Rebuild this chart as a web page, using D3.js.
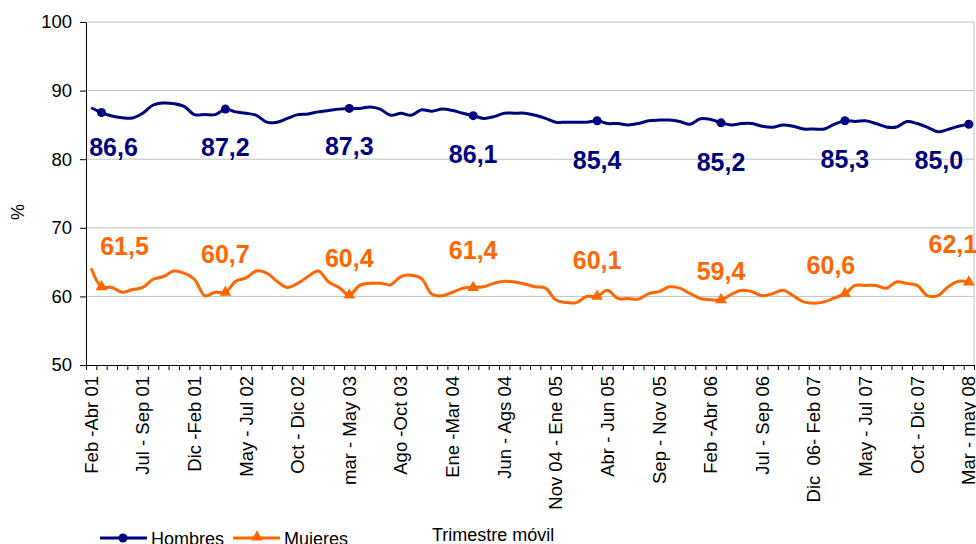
<!DOCTYPE html>
<html>
<head>
<meta charset="utf-8">
<script src="https://cdn.jsdelivr.net/npm/d3@7"></script>
<style>
  body { margin: 0; background: #fff; }
  svg text { font-family: "Liberation Sans", Arial, sans-serif; white-space: pre; }
</style>
</head>
<body>
<svg width="976" height="544"></svg>
<script>
// moving quarters Feb-Abr 01 .. Mar-May 08 (86 values)
var hombres = [87.5, 86.8, 86.3, 86.05, 86.0, 86.7, 87.9, 88.2, 88.1, 87.7,
  86.5, 86.5, 86.5, 87.3, 86.9, 86.7, 86.4, 85.4, 85.4, 85.95,
  86.5, 86.6, 86.9, 87.1, 87.3, 87.4, 87.4, 87.6, 87.3, 86.4,
  86.7, 86.4, 87.2, 87.0, 87.3, 87.1, 86.7, 86.35, 85.95, 86.2,
  86.7, 86.7, 86.7, 86.4, 85.95, 85.4, 85.4, 85.4, 85.4, 85.6,
  85.2, 85.2, 85.0, 85.2, 85.6, 85.7, 85.7, 85.5, 85.1, 85.9,
  85.8, 85.3, 85.0, 85.2, 85.2, 84.8, 84.65, 85.0, 84.8, 84.4,
  84.4, 84.4, 85.1, 85.6, 85.5, 85.6, 85.2, 84.7, 84.7, 85.5,
  85.2, 84.65, 84.0, 84.35, 84.8, 85.1];
var mujeres = [64.1, 61.4, 61.3, 60.6, 61.0, 61.3, 62.5, 62.9, 63.7, 63.4,
  62.5, 60.1, 60.6, 60.6, 62.2, 62.7, 63.7, 63.4, 62.2, 61.3,
  61.9, 62.9, 63.7, 62.1, 61.3, 60.2, 61.6, 61.9, 61.9, 61.7,
  62.9, 63.1, 62.6, 60.3, 60.1, 60.6, 61.2, 61.3, 61.4, 61.9,
  62.2, 62.1, 61.8, 61.4, 61.2, 59.5, 59.1, 59.1, 60.0, 60.0,
  60.9, 59.7, 59.7, 59.6, 60.4, 60.7, 61.4, 61.2, 60.4, 59.7,
  59.5, 59.5, 60.3, 60.9, 60.7, 60.1, 60.4, 60.9, 60.1, 59.2,
  59.0, 59.2, 59.8, 60.4, 61.6, 61.6, 61.6, 61.2, 62.1, 61.9,
  61.6, 60.1, 60.1, 61.4, 62.2, 62.1];

// marked points (one per year) and the numbers printed next to them
var markIdx = [1, 13, 25, 37, 49, 61, 73, 85];
var hombresLabels = ["86,6", "87,2", "87,3", "86,1", "85,4", "85,2", "85,3", "85,0"];
var mujeresLabels = ["61,5", "60,7", "60,4", "61,4", "60,1", "59,4", "60,6", "62,1"];

var tickLabels = ["Feb -Abr 01", "Jul - Sep 01", "Dic -Feb 01", "May - Jul 02", "Oct - Dic 02",
  "mar - May 03", "Ago -Oct 03", "Ene -Mar 04", "Jun - Ags 04", "Nov 04 - Ene 05",
  "Abr - Jun 05", "Sep - Nov 05", "Feb -Abr 06", "Jul - Sep 06", "Dic  06- Feb 07",
  "May - Jul 07", "Oct - Dic 07", "Mar - may 08"];
var yTicks = [50, 60, 70, 80, 90, 100];

// label nudges (hand placed in the original)
var hNudge = [[12, 43], [0, 47], [0, 47], [0, 47], [0, 48], [0, 48], [0, 47], [-30, 45]];
var mNudge = [[23, -32], [0, -29], [0, -28], [0, -28], [0, -27], [0, -20], [-14, -20], [-16, -29]];

var svg = d3.select("svg");
var x0 = 86, x1 = 974, yTop = 22, yBot = 365;
var navy = "#000080", orange = "#ff6600";

var x = d3.scaleBand().domain(d3.range(hombres.length)).range([x0, x1]);
var cx = i => x(i) + x.bandwidth() / 2;
var y = d3.scaleLinear().domain([50, 100]).range([yBot, yTop]);

// grid
svg.append("g").selectAll("line")
  .data(yTicks.filter(d => d > 50))
  .enter().append("line")
  .attr("x1", x0).attr("x2", x1)
  .attr("y1", d => y(d)).attr("y2", d => y(d))
  .style("stroke", "#c0c0c0").style("stroke-width", 1);
svg.append("line")
  .attr("x1", x1).attr("x2", x1).attr("y1", yTop).attr("y2", yBot)
  .style("stroke", "#c0c0c0");

// y axis
var yAxis = svg.append("g")
  .attr("transform", "translate(" + x0 + ",0)")
  .call(d3.axisLeft(y).tickValues(yTicks).tickSize(6).tickSizeOuter(0).tickPadding(8));
yAxis.select(".domain").style("stroke", "#000");
yAxis.selectAll("text").style("font-size", "18.5px").style("fill", "#000");

// x axis with a tick on every category boundary
var xl = d3.scaleLinear().domain([0, hombres.length]).range([x0, x1]);
var xAxis = svg.append("g")
  .attr("transform", "translate(0," + yBot + ")")
  .call(d3.axisBottom(xl).tickValues(d3.range(hombres.length + 1)).tickFormat("").tickSize(5).tickSizeOuter(0));
xAxis.select(".domain").style("stroke", "#000");

svg.append("g").selectAll("text")
  .data(tickLabels)
  .enter().append("text")
  .attr("transform", (d, i) => "translate(" + cx(i * 5) + "," + 376 + ") rotate(-90)")
  .attr("text-anchor", "end")
  .attr("dominant-baseline", "central")
  .style("font-size", "18.5px")
  .text(d => d);

// lines (smoothed like the original)
var line = d3.line().x((d, i) => cx(i)).y(d => y(d)).curve(d3.curveCatmullRom.alpha(0.5));
[[hombres, navy], [mujeres, orange]].forEach(function(s) {
  svg.append("path")
    .datum(s[0])
    .attr("d", line)
    .style("fill", "none")
    .style("stroke", s[1])
    .style("stroke-width", 3)
    .style("stroke-linejoin", "round");
});

// markers
svg.append("g").selectAll("circle")
  .data(markIdx)
  .enter().append("circle")
  .attr("cx", i => cx(i)).attr("cy", i => y(hombres[i]))
  .attr("r", 4.5).style("fill", navy);
var tri = d3.symbol().type(d3.symbolTriangle).size(60);
svg.append("g").selectAll("path")
  .data(markIdx)
  .enter().append("path")
  .attr("d", tri)
  .attr("transform", i => "translate(" + cx(i) + "," + y(mujeres[i]) + ")")
  .style("fill", orange);

// value labels
svg.append("g").selectAll("text")
  .data(markIdx)
  .enter().append("text")
  .attr("x", (i, k) => cx(i) + hNudge[k][0])
  .attr("y", (i, k) => y(hombres[i]) + hNudge[k][1])
  .attr("text-anchor", "middle")
  .style("font-size", "25px").style("font-weight", "bold").style("fill", navy)
  .text((i, k) => hombresLabels[k]);
svg.append("g").selectAll("text")
  .data(markIdx)
  .enter().append("text")
  .attr("x", (i, k) => cx(i) + mNudge[k][0])
  .attr("y", (i, k) => y(mujeres[i]) + mNudge[k][1])
  .attr("text-anchor", "middle")
  .style("font-size", "25px").style("font-weight", "bold").style("fill", orange)
  .text((i, k) => mujeresLabels[k]);

// axis titles
svg.append("text")
  .attr("transform", "translate(18,212) rotate(-90)")
  .attr("text-anchor", "middle").attr("dominant-baseline", "central")
  .style("font-size", "18px")
  .text("%");
svg.append("text")
  .attr("x", 432).attr("y", 541)
  .style("font-size", "18px")
  .text("Trimestre móvil");

// legend
var legend = svg.append("g");
legend.append("line").attr("x1", 100).attr("x2", 147).attr("y1", 538).attr("y2", 538)
  .style("stroke", navy).style("stroke-width", 3);
legend.append("circle").attr("cx", 123).attr("cy", 538).attr("r", 4.5).style("fill", navy);
legend.append("text").attr("x", 151).attr("y", 545).style("font-size", "18px").text("Hombres");
legend.append("line").attr("x1", 233).attr("x2", 280).attr("y1", 538).attr("y2", 538)
  .style("stroke", orange).style("stroke-width", 3);
legend.append("path").attr("d", tri).attr("transform", "translate(257,537)").style("fill", orange);
legend.append("text").attr("x", 284).attr("y", 545).style("font-size", "18px").text("Mujeres");
</script>
</body>
</html>
